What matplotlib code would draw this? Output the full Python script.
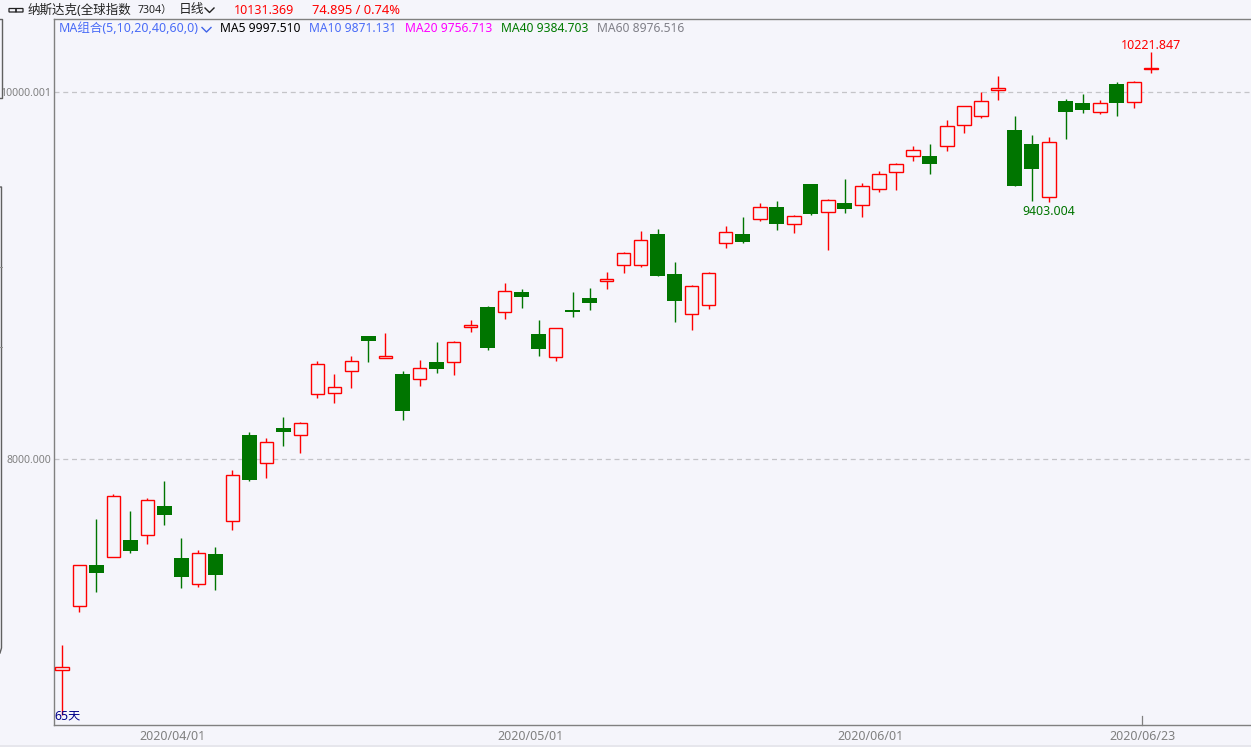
import matplotlib
matplotlib.use('Agg')
import matplotlib.pyplot as plt
from matplotlib.lines import Line2D
from matplotlib.patches import Rectangle, FancyBboxPatch

plt.rcParams['font.family'] = ['Noto Sans', 'Noto Sans CJK SC', 'DejaVu Sans']

# daily bars, 65 trading days
opens = [6850, 7199, 7424, 7466, 7558, 7586, 7745, 7462, 7319, 7484,
         7662, 8132, 7978, 8170, 8131, 8354, 8360, 8479, 8672, 8554,
         8465, 8436, 8530, 8529, 8719, 8830, 8801, 8912, 8683, 8556,
         8814, 8879, 8972, 9057, 9057, 9228, 9010, 8790, 8839, 9177,
         9228, 9308, 9375, 9281, 9500, 9346, 9397, 9384, 9471, 9564,
         9651, 9653, 9706, 9820, 9869, 10011, 9795, 9718, 9428, 9953,
         9942, 9891, 10045, 9945, 10126]
highs = [6988, 7422, 7674, 7811, 7718, 7787, 7882, 7571, 7506, 7522,
         7942, 8149, 8116, 8230, 8203, 8536, 8465, 8563, 8672, 8688,
         8481, 8541, 8639, 8645, 8759, 8835, 8961, 8928, 8759, 8714,
         8912, 8933, 9021, 9130, 9244, 9255, 9075, 8950, 9021, 9271,
         9320, 9397, 9408, 9331, 9500, 9418, 9527, 9506, 9571, 9615,
         9707, 9718, 9849, 9924, 10002, 10089, 9871, 9767, 9756, 9963,
         9991, 9958, 10056, 10062, 10221.847]
lows = [6606, 7169, 7278, 7466, 7491, 7540, 7642, 7300, 7306, 7288,
        7616, 7882, 7900, 8074, 8036, 8336, 8308, 8390, 8532, 8554,
        8216, 8401, 8472, 8461, 8695, 8597, 8766, 8826, 8564, 8537,
        8777, 8815, 8930, 9017, 9050, 9000, 8750, 8706, 8821, 9153,
        9180, 9299, 9251, 9235, 9331, 9142, 9344, 9322, 9458, 9469,
        9627, 9556, 9682, 9780, 9862, 9960, 9491, 9409, 9403.004, 9747,
        9889, 9883, 9872, 9916, 10107]
closes = [6866, 7422, 7382, 7798, 7502, 7776, 7698, 7360, 7488, 7371,
          7913, 7889, 8092, 8150, 8196, 8518, 8392, 8534, 8646, 8561,
          8265, 8496, 8494, 8638, 8730, 8608, 8915, 8886, 8603, 8714,
          8804, 8853, 8982, 9123, 9193, 9000, 8864, 8943, 9014, 9237,
          9186, 9373, 9284, 9324, 9338, 9411, 9366, 9488, 9553, 9608,
          9684, 9611, 9815, 9924, 9951, 10022, 9491, 9584, 9728, 9894,
          9905, 9940, 9943, 10056.474, 10131.369]

grid_values = [10000.001, 8000.000]
grid_labels = ['10000.001', '8000.000']
date_pos = [6.5, 27.5, 47.5, 63.5]
date_labels = ['2020/04/01', '2020/05/01', '2020/06/01', '2020/06/23']

ma_names = ['MA5 9997.510', 'MA10 9871.131', 'MA20 9756.713', 'MA40 9384.703', 'MA60 8976.516']
ma_colors = ['#000000', '#4a6cf7', '#ff00ff', '#007a00', '#808088']
ma_xpos = [220, 309, 405, 501, 597]

BG = '#f5f5fb'
RED = '#ff0000'
GREEN = '#007500'
GRAY = '#808080'
W, H = 1251, 747


def px(x, y):
    return x / W, 1 - y / H


def fig_text(x, y, s, **kw):
    fx, fy = px(x, y)
    fig.text(fx, fy, s, va='center', **kw)


def fig_line(xs, ys, color=GRAY, lw=1.0):
    pts = [px(x, y) for x, y in zip(xs, ys)]
    fig.add_artist(Line2D([p[0] for p in pts], [p[1] for p in pts], color=color, lw=lw))


fig = plt.figure(figsize=(W / 100, H / 100), dpi=100, facecolor=BG)
ax = fig.add_axes([54.3 / W, 1 - 725.3 / H, (W - 54.3) / W, (725.3 - 19) / H], facecolor=BG)

# candles: red hollow when close is up, green filled when down
for i, (o, h, l, c) in enumerate(zip(opens, highs, lows, closes)):
    up = c >= o
    color = RED if up else GREEN
    ax.vlines(i, l, h, color=color, lw=1.0, zorder=3)
    if up:
        ax.bar(i, c - o, bottom=o, width=0.8, facecolor=BG, edgecolor=color, linewidth=1.0, zorder=4)
    else:
        ax.bar(i, o - c, bottom=c, width=0.88, color=color, linewidth=0, zorder=4)

ax.set_xlim(-8.0 / 17.01, (W - 62.3) / 17.01)
ax.set_ylim(6550, 10399.5)

for v in grid_values:
    ax.axhline(v, color='#c4c4c8', lw=0.9, ls=(0, (4, 3)), zorder=1)

ax.set_yticks(grid_values)
ax.set_yticklabels(grid_labels, fontsize=7.6, color=GRAY)
ax.set_xticks(date_pos)
ax.set_xticklabels(date_labels, fontsize=9, color=GRAY)
ax.tick_params(length=0, axis='both')
ax.tick_params(axis='y', pad=2.5)
ax.tick_params(axis='x', pad=3.5)

for side in ['left', 'top', 'bottom']:
    ax.spines[side].set_color(GRAY)
    ax.spines[side].set_linewidth(1.0)
ax.spines['right'].set_visible(False)

# cursor tick on the last date
ax.plot([date_pos[-1]] * 2, [0, 0.013], color=GRAY, lw=0.9, transform=ax.get_xaxis_transform(), clip_on=False)

ax.annotate('10221.847', (64, 10221.847), xytext=(0, 0), textcoords='offset points',
            ha='center', va='bottom', fontsize=9, color=RED)
ax.annotate('9403.004', (58, 9403.004), xytext=(0, -2), textcoords='offset points',
            ha='center', va='top', fontsize=8.9, color=GREEN)

# header row
fig_text(28, 10, '纳斯达克(全球指数', fontsize=9.0, color='#222222')
fig_text(138, 10.5, '7304）', fontsize=7.6, color='#222222')
fig_text(179, 10, '日线', fontsize=9.2, color='#222222')
fig_text(234, 10, '10131.369', fontsize=9, color=RED)
fig_text(312, 10, '74.895 / 0.74%', fontsize=9.3, color=RED)

# small link icon in front of the title
for x0 in (9, 16):
    fx, fy = px(x0, 12)
    fig.add_artist(FancyBboxPatch((fx, fy), 7 / W, 3.5 / H, boxstyle='round,pad=0', transform=fig.transFigure,
                                  facecolor='none', edgecolor='#222222', lw=0.9))

fig_line([205, 209.5, 214], [8, 12.5, 8], color='#222222')
fig_line([202, 206.5, 211], [27.5, 32, 27.5], color='#3f63e8')

# moving average row
fig_text(59, 29, 'MA组合(5,10,20,40,60,0)', fontsize=9, color='#4a6cf7')
for name, col, x0 in zip(ma_names, ma_colors, ma_xpos):
    fig_text(x0, 29, name, fontsize=8.7, color=col)

fig_text(54, 716, '65天', fontsize=8.8, color='#00008b')

# bracket lines of the side panel
fig_line([0, 1.5, 1.5, 0], [19, 19, 98, 98], color='#606060')
fig_line([0, 1.5, 1.5, 0], [187, 187, 648, 653], color='#606060')
for y0 in (266.5, 347):
    fig_line([0, 1.5], [y0, y0], color='#909090', lw=0.7)

# status strip under the chart
fx, fy = px(0, 747)
fig.add_artist(Rectangle((fx, fy), 1, 2.5 / H, transform=fig.transFigure, facecolor='#e6e6ec', edgecolor='none'))

fig.savefig('out.png', dpi=100, facecolor=BG)
